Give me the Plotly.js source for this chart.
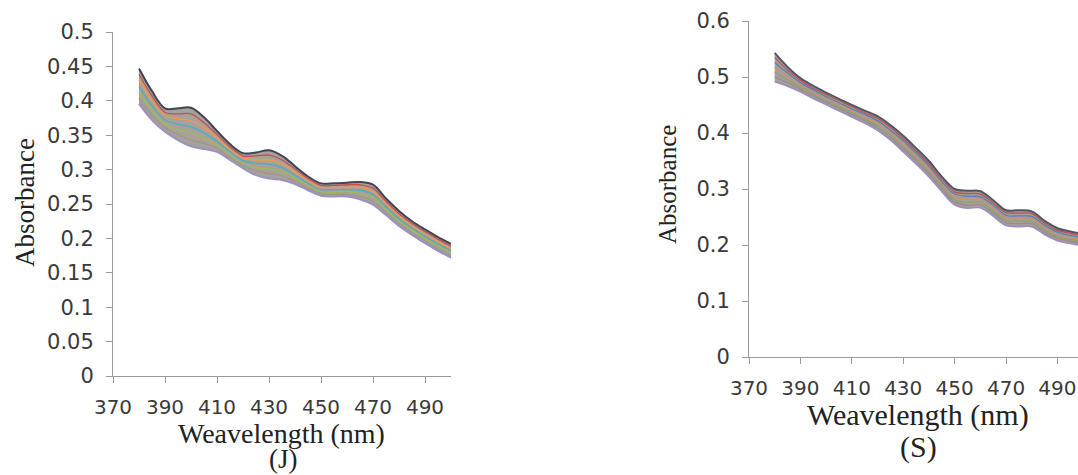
<!DOCTYPE html>
<html>
<head>
<meta charset="utf-8">
<script src="https://cdn.plot.ly/plotly-3.0.1.min.js"></script>
<style>html,body{margin:0;padding:0;background:#fff;}#chart{width:1078px;height:475px;}</style>
</head>
<body>
<div id="chart"></div>
<script>
// Wavelength (nm)
const wavelengths = [380,385,390,395,400,405,410,415,420,425,430,435,440,445,450,455,460,465,470,475,480,485,490,495,500];

// Panel (J) absorbance spectra, top to bottom
const jSeries1 = [.447,.414,.389,.389,.390,.376,.356,.337,.324,.325,.328,.320,.305,.290,.280,.280,.281,.282,.278,.258,.240,.225,.213,.202,.192];
const jSeries2 = [.439,.407,.383,.381,.381,.368,.351,.333,.320,.320,.321,.314,.301,.287,.277,.277,.278,.278,.273,.254,.236,.222,.210,.199,.189];
const jSeries3 = [.430,.400,.378,.374,.371,.361,.346,.329,.317,.314,.314,.308,.296,.283,.274,.274,.274,.274,.268,.250,.233,.218,.206,.195,.185];
const jSeries4 = [.421,.393,.372,.366,.362,.353,.341,.326,.313,.309,.308,.303,.292,.280,.271,.271,.271,.270,.264,.246,.229,.215,.203,.192,.182];
const jSeries5 = [.413,.386,.366,.358,.353,.345,.336,.322,.309,.303,.301,.297,.288,.277,.268,.267,.268,.265,.259,.242,.225,.212,.200,.189,.179];
const jSeries6 = [.404,.379,.361,.351,.343,.338,.331,.318,.306,.298,.294,.291,.283,.273,.265,.264,.264,.261,.254,.238,.222,.208,.196,.185,.175];
const jSeries7 = [.396,.372,.355,.343,.334,.330,.326,.314,.302,.292,.287,.285,.279,.270,.262,.261,.261,.257,.249,.234,.218,.205,.193,.182,.172];

// Panel (S) absorbance spectra, top to bottom
const sSeries1 = [.543,.518,.498,.484,.472,.461,.450,.440,.430,.414,.395,.373,.350,.322,.300,.297,.296,.280,.262,.262,.260,.243,.230,.224,.220];
const sSeries2 = [.535,.512,.494,.480,.469,.458,.447,.436,.426,.410,.390,.368,.345,.318,.295,.292,.291,.275,.258,.257,.256,.239,.226,.221,.217];
const sSeries3 = [.526,.507,.490,.477,.465,.454,.443,.433,.422,.405,.386,.364,.341,.313,.291,.287,.286,.271,.253,.252,.251,.235,.223,.217,.213];
const sSeries4 = [.518,.501,.486,.473,.462,.451,.440,.429,.418,.401,.381,.359,.336,.309,.286,.282,.282,.266,.249,.248,.247,.231,.219,.214,.210];
const sSeries5 = [.509,.495,.482,.469,.458,.447,.436,.425,.413,.397,.376,.354,.331,.305,.281,.276,.277,.261,.244,.243,.242,.227,.215,.210,.206];
const sSeries6 = [.500,.490,.478,.466,.455,.444,.433,.422,.409,.392,.372,.350,.327,.300,.277,.271,.272,.257,.240,.238,.238,.223,.212,.207,.203];
const sSeries7 = [.492,.484,.474,.462,.451,.440,.429,.418,.405,.388,.367,.345,.322,.296,.272,.266,.267,.252,.235,.233,.233,.219,.208,.203,.199];

// Tick values
const xTicks = [370,390,410,430,450,470,490];
const jYTicks = [0,0.05,0.1,0.15,0.2,0.25,0.3,0.35,0.4,0.45,0.5];
const sYTicks = [0,0.1,0.2,0.3,0.4,0.5,0.6];

const jColors = ['#3f4656','#C0504D','#F79646','#4BACC6','#9BBB59','#a39585','#9b90c2'];
const sColors = ['#4f5666','#C0504D','#4F81BD','#c8906a','#8f9f70','#9a8c80','#9a8fc0'];
const bandFill = 'rgba(158,150,143,0.9)';

const traces = [];
[jSeries1,jSeries2,jSeries3,jSeries4,jSeries5,jSeries6,jSeries7].forEach((ys,i)=>{
  traces.push({x:wavelengths, y:ys, type:'scatter', mode:'lines', xaxis:'x', yaxis:'y',
    line:{color:jColors[i], width:(i===0||i===6)?2:1.3, shape:'spline', smoothing:1},
    fill: i===0 ? 'none' : 'tonexty', fillcolor: bandFill, showlegend:false, hoverinfo:'skip'});
});
[sSeries1,sSeries2,sSeries3,sSeries4,sSeries5,sSeries6,sSeries7].forEach((ys,i)=>{
  traces.push({x:wavelengths, y:ys, type:'scatter', mode:'lines', xaxis:'x2', yaxis:'y2',
    line:{color:sColors[i], width:(i===0||i===6)?2:1.3, shape:'spline', smoothing:1},
    fill: i===0 ? 'none' : 'tonexty', fillcolor: bandFill, showlegend:false, hoverinfo:'skip'});
});

const axisCommon = {showgrid:false, zeroline:false, showline:true, linecolor:'#9a9a9a', linewidth:1,
  ticks:'outside', ticklen:6, tickcolor:'#9a9a9a', tickwidth:1};

const W = 1078, H = 475;
const layout = {
  width:W, height:H, margin:{l:0,r:0,t:0,b:0}, paper_bgcolor:'#fff', plot_bgcolor:'#fff', showlegend:false,
  xaxis: Object.assign({}, axisCommon, {domain:[113/W, 451/W], range:[370,500], tickvals:xTicks, anchor:'y',
    ticklabelstandoff:7, tickfont:{family:'DejaVu Sans', size:20, color:'#3a3a3a'}}),
  yaxis: Object.assign({}, axisCommon, {domain:[1-376/H, 1-32/H], range:[0,0.5], tickvals:jYTicks, anchor:'x',
    ticklabelstandoff:8, tickfont:{family:'DejaVu Sans', size:21, color:'#3a3a3a'}}),
  xaxis2: Object.assign({}, axisCommon, {domain:[749/W, 1], range:[370,498], tickvals:xTicks, anchor:'y2',
    ticklabelstandoff:7, tickfont:{family:'DejaVu Sans', size:20, color:'#3a3a3a'}}),
  yaxis2: Object.assign({}, axisCommon, {domain:[1-357/H, 1-21/H], range:[0,0.6], tickvals:sYTicks, anchor:'x2',
    ticklabelstandoff:8, tickfont:{family:'DejaVu Sans', size:21, color:'#3a3a3a'}}),
  annotations: [
    {text:'Weavelength (nm)', xref:'paper', yref:'paper', x:281.5/W, y:1-433/H, xanchor:'center', yanchor:'middle', showarrow:false,
      font:{family:'Liberation Serif', size:28, color:'#222'}},
    {text:'(J)', xref:'paper', yref:'paper', x:283/W, y:0, xanchor:'center', yanchor:'bottom', borderpad:0, showarrow:false,
      font:{family:'Liberation Serif', size:27, color:'#222'}},
    {text:'Absorbance', xref:'paper', yref:'paper', x:25/W, y:1-203/H, xanchor:'center', yanchor:'middle', textangle:-90, showarrow:false,
      font:{family:'Liberation Serif', size:27, color:'#222'}},
    {text:'Weavelength (nm)', xref:'paper', yref:'paper', x:918/W, y:1-415/H, xanchor:'center', yanchor:'middle', showarrow:false,
      font:{family:'Liberation Serif', size:30, color:'#222'}},
    {text:'(S)', xref:'paper', yref:'paper', x:918/W, y:1-447/H, xanchor:'center', yanchor:'middle', showarrow:false,
      font:{family:'Liberation Serif', size:30, color:'#222'}},
    {text:'Absorbance', xref:'paper', yref:'paper', x:667/W, y:1-185/H, xanchor:'center', yanchor:'middle', textangle:-90, showarrow:false,
      font:{family:'Liberation Serif', size:25, color:'#222'}}
  ]
};

Plotly.newPlot('chart', traces, layout, {staticPlot:true, displayModeBar:false});
</script>
</body>
</html>
